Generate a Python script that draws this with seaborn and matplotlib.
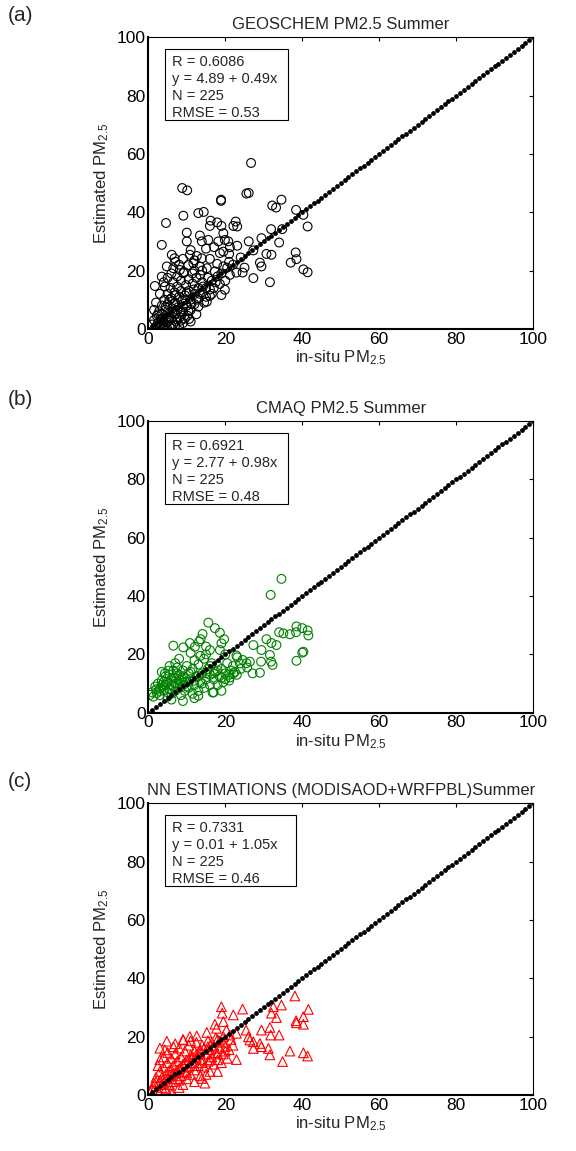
import matplotlib
matplotlib.use("Agg")
import matplotlib.pyplot as plt
import matplotlib.patches as mpatches
import seaborn as sns
import pandas as pd
import numpy as np

# in-situ vs estimated PM2.5 (x, y)
geos_pts = [
    (26.7, 56.9), (8.8, 48.3), (10.1, 47.5), (25.5, 46.4), (26.1, 46.6), (18.9, 44.3), (18.9, 43.9),
    (34.6, 44.3), (32.2, 42.3), (33.2, 41.6), (38.4, 40.8), (40.3, 39.1), (14.4, 40.1), (13.0, 39.7),
    (9.1, 38.8), (4.6, 36.3), (16.2, 37.1), (17.9, 36.5), (19.0, 35.3), (16.0, 35.3), (22.7, 36.8),
    (22.1, 35.3), (23.1, 35.1), (19.5, 32.8), (10.0, 33.0), (10.0, 30.0), (13.4, 32.0), (13.9, 30.0),
    (15.6, 30.5), (18.2, 30.0), (20.8, 30.0), (21.2, 28.0), (23.1, 28.5), (26.1, 30.0), (29.4, 31.1),
    (31.9, 34.2), (34.8, 34.2), (34.0, 29.6), (41.4, 35.1), (3.5, 28.8), (6.1, 25.4), (6.8, 24.2),
    (10.8, 25.4), (12.6, 25.0), (13.9, 24.2), (17.1, 28.0), (19.5, 26.5), (21.0, 25.7), (18.6, 26.0),
    (30.7, 25.7), (32.0, 25.4), (38.3, 26.2), (38.5, 23.9), (37.0, 22.7), (29.0, 22.7), (29.4, 21.4),
    (40.3, 20.4), (41.4, 19.4), (24.5, 19.3), (27.3, 17.4), (31.6, 16.0), (21.2, 18.5), (22.9, 19.3),
    (17.9, 22.3), (19.5, 21.4), (17.3, 19.7), (15.2, 20.8), (13.4, 21.4), (11.7, 22.5), (10.4, 21.9),
    (4.8, 21.4), (6.5, 20.8), (8.2, 20.2), (9.1, 19.1), (1.7, 14.7), (3.5, 17.9), (4.3, 14.5),
    (18.6, 15.4), (19.9, 13.4), (19.0, 11.6), (16.0, 11.3), (15.2, 9.3), (13.0, 7.6), (10.6, 3.4),
    (27.3, 26.9), (19.9, 30.5),
    (1.0, 1.5), (1.5, 3.0), (2.0, 0.8), (2.2, 4.5), (2.5, 2.0), (2.8, 6.0), (3.0, 1.0), (3.2, 3.5),
    (3.5, 8.0), (3.6, 5.0), (3.8, 0.5), (4.0, 2.5), (4.2, 10.0), (4.4, 6.5), (4.5, 1.5), (4.8, 4.0),
    (5.0, 12.0), (5.0, 8.5), (5.2, 2.8), (5.5, 0.8), (5.5, 5.5), (5.8, 14.0), (6.0, 10.5), (6.0, 3.5),
    (6.2, 7.0), (6.5, 1.5), (6.5, 16.0), (6.8, 12.5), (7.0, 5.0), (7.0, 9.0), (7.2, 2.5), (7.5, 18.0),
    (7.5, 14.5), (7.8, 7.5), (8.0, 11.0), (8.0, 0.8), (8.2, 4.0), (8.5, 16.5), (8.5, 13.0), (8.8, 9.5),
    (9.0, 6.0), (9.0, 2.0), (9.3, 19.5), (9.5, 11.5), (9.8, 15.0), (10.0, 8.0), (10.2, 4.5), (10.5, 17.0),
    (10.5, 13.0), (11.0, 10.0), (11.0, 6.5), (11.5, 19.0), (11.5, 15.5), (12.0, 12.0), (12.0, 8.5),
    (12.5, 17.5), (13.0, 14.0), (13.0, 10.5), (13.5, 18.5), (14.0, 12.5), (14.0, 16.0), (14.5, 9.0),
    (15.0, 14.0), (15.5, 17.5), (16.0, 13.5), (16.5, 16.5), (17.0, 14.0), (12.5, 5.0), (11.0, 2.5),
    (3.0, 12.0), (2.0, 9.0), (1.5, 6.5), (6.0, 19.0), (5.0, 17.5), (4.0, 16.0), (8.0, 22.0), (7.0, 23.0),
    (9.0, 24.0), (11.0, 27.0), (12.0, 23.5), (16.0, 24.0), (15.0, 27.5), (20.0, 16.5), (22.0, 22.0),
    (24.0, 24.5), (25.0, 21.0), (3.5, 3.0), (4.5, 7.5), (5.5, 3.8), (6.5, 8.5), (7.5, 3.2), (8.5, 5.5),
    (6.0, 1.0), (7.0, 11.5), (9.5, 3.5), (10.0, 12.5),
    (2.5, 5.0), (3.2, 1.8), (4.0, 0.8), (4.8, 2.2), (5.5, 10.0), (6.3, 5.8), (7.0, 1.2), (7.6, 6.5),
    (8.4, 2.8), (9.0, 7.5), (9.6, 10.0), (10.4, 6.0), (11.2, 8.5), (11.8, 13.5), (12.6, 10.0),
    (13.4, 12.0), (14.2, 14.5), (15.0, 11.0), (16.5, 12.0), (17.5, 16.0), (18.0, 18.0), (19.0, 19.0),
    (20.5, 21.0), (21.0, 23.0), (14.0, 20.0), (12.0, 20.0),
]

cmaq_pts = [
    (34.6, 45.9), (31.8, 40.4), (15.6, 30.9), (17.3, 29.0), (14.1, 27.0), (13.6, 25.2), (13.2, 24.4),
    (18.6, 27.4), (19.7, 25.2), (19.0, 23.8), (10.8, 23.9), (9.1, 22.4), (6.5, 23.0), (12.1, 22.6),
    (15.0, 22.7), (16.0, 21.5), (18.6, 21.5), (30.7, 25.2), (32.0, 23.9), (33.3, 23.2), (34.0, 27.6),
    (35.1, 27.2), (36.8, 26.9), (38.4, 27.6), (38.5, 29.6), (40.0, 29.0), (41.4, 28.2), (41.6, 26.5),
    (40.3, 20.9), (40.0, 20.6), (38.5, 17.8), (27.3, 23.2), (29.4, 21.5), (22.9, 19.6), (23.1, 19.0),
    (24.5, 18.1), (26.4, 17.5), (25.7, 15.5), (27.1, 13.5), (29.0, 13.7), (29.3, 17.5), (31.6, 19.8),
    (31.9, 17.5), (32.3, 16.4), (21.2, 12.1), (22.1, 13.5), (23.8, 16.9), (13.0, 5.8), (16.7, 6.9),
    (0.4, 6.1), (1.3, 5.5), (2.2, 6.7), (3.0, 8.4), (3.9, 8.9), (3.5, 14.0), (4.3, 13.5), (5.2, 14.4),
    (2.0, 8.0), (2.5, 10.0), (3.0, 6.0), (3.5, 11.0), (4.0, 7.5), (4.5, 9.5), (4.5, 12.5), (5.0, 5.5),
    (5.0, 10.5), (5.5, 8.0), (5.5, 13.0), (6.0, 11.0), (6.0, 6.5), (6.5, 9.0), (6.5, 14.5), (7.0, 7.5),
    (7.0, 12.0), (7.5, 10.0), (7.5, 15.5), (8.0, 8.5), (8.0, 13.0), (8.5, 11.0), (8.5, 6.0), (9.0, 9.5),
    (9.0, 14.5), (9.5, 12.0), (9.5, 7.5), (10.0, 10.5), (10.0, 16.0), (10.5, 8.5), (10.5, 13.5),
    (11.0, 11.5), (11.5, 6.5), (11.5, 15.0), (12.0, 9.5), (12.0, 18.0), (12.5, 12.5), (13.0, 7.5),
    (13.0, 16.5), (13.5, 10.5), (14.0, 13.5), (14.5, 8.5), (14.5, 18.5), (15.0, 11.5), (15.5, 15.0),
    (16.0, 9.5), (16.0, 13.0), (16.5, 17.0), (17.0, 11.5), (17.5, 14.0), (18.0, 9.5), (18.0, 16.0),
    (18.5, 12.5), (19.0, 15.0), (19.5, 10.5), (20.0, 13.5), (20.5, 17.0), (21.0, 11.0), (21.5, 14.5),
    (22.0, 16.0), (15.0, 20.0), (13.5, 19.5), (11.0, 20.5), (8.0, 18.5), (7.0, 17.0), (5.5, 16.0),
    (6.0, 4.5), (9.0, 4.0), (12.0, 5.0), (17.0, 7.0), (19.0, 7.5), (23.0, 13.0), (24.0, 15.0),
    (25.5, 17.0), (20.0, 20.0), (1.0, 7.0), (1.8, 9.0), (2.8, 7.5), (3.5, 9.5),
    (4.0, 10.5), (5.0, 7.0), (6.0, 9.5), (7.0, 10.0), (8.0, 11.5), (9.0, 12.5), (10.0, 9.0),
    (11.0, 14.0), (12.0, 11.0), (13.0, 12.5), (14.0, 10.0), (15.0, 13.5), (16.0, 16.0), (17.0, 13.5),
    (18.0, 14.5), (19.0, 12.0), (20.0, 11.5), (21.0, 13.0), (22.5, 14.0), (7.5, 13.5), (6.5, 12.0),
    (9.5, 10.5),
]

nn_pts = [
    (38.1, 33.9), (41.6, 29.3), (40.3, 26.8), (38.4, 25.4), (38.5, 24.7), (40.3, 24.2), (34.6, 30.8),
    (32.5, 30.2), (32.0, 28.0), (33.3, 26.5), (24.5, 29.4), (22.1, 27.4), (19.0, 30.2), (19.2, 28.0),
    (19.5, 25.1), (17.3, 24.2), (17.7, 22.8), (20.3, 22.2), (15.2, 21.4), (12.6, 20.2), (10.8, 20.0),
    (9.1, 18.8), (4.8, 18.4), (3.0, 16.0), (4.3, 15.4), (29.4, 22.2), (31.6, 23.1), (31.8, 20.5),
    (34.0, 20.5), (26.0, 19.9), (26.4, 18.8), (27.3, 18.2), (29.0, 17.6), (29.4, 16.5), (31.2, 15.9),
    (27.3, 15.9), (31.6, 13.7), (36.8, 15.0), (34.9, 11.4), (40.3, 14.4), (41.4, 13.3), (22.9, 12.1),
    (14.7, 4.0), (13.9, 5.6), (6.1, 0.3), (0.4, 1.1), (25.4, 22.2), (22.9, 21.1), (21.2, 20.5),
    (1.0, 2.0), (1.5, 4.0), (2.0, 3.0), (2.0, 6.0), (2.5, 1.5), (3.0, 4.5), (3.0, 8.0), (3.5, 2.5),
    (3.5, 6.0), (4.0, 4.0), (4.0, 9.5), (4.5, 7.0), (4.5, 2.0), (5.0, 5.5), (5.0, 11.0), (5.5, 3.5),
    (5.5, 8.5), (6.0, 6.5), (6.0, 12.5), (6.5, 4.5), (6.5, 10.0), (7.0, 7.5), (7.0, 14.0), (7.5, 5.5),
    (7.5, 11.5), (8.0, 9.0), (8.0, 16.0), (8.5, 6.5), (8.5, 13.0), (9.0, 10.5), (9.0, 3.5), (9.5, 8.0),
    (9.5, 15.0), (10.0, 12.0), (10.0, 5.5), (10.5, 9.5), (10.5, 17.0), (11.0, 13.5), (11.0, 7.0),
    (11.5, 11.0), (12.0, 15.0), (12.0, 8.5), (12.5, 12.5), (12.5, 18.0), (13.0, 10.0), (13.5, 14.5),
    (13.5, 6.5), (14.0, 12.0), (14.0, 17.0), (14.5, 9.5), (15.0, 14.0), (15.5, 11.5), (15.5, 18.5),
    (16.0, 8.0), (16.0, 15.5), (16.5, 13.0), (17.0, 17.0), (17.0, 10.5), (17.5, 14.5), (18.0, 12.0),
    (18.0, 19.0), (18.5, 16.0), (19.0, 11.0), (19.5, 14.0), (19.5, 18.0), (20.0, 16.5), (20.5, 12.5),
    (21.0, 15.5), (21.5, 19.0), (22.0, 17.0), (6.0, 1.5), (8.0, 2.5), (12.0, 4.5), (15.0, 7.0),
    (18.0, 8.0), (3.0, 12.0), (5.0, 14.5), (7.0, 17.5), (9.0, 19.0), (11.0, 18.5), (6.5, 16.5),
    (4.0, 13.0), (2.5, 10.0),
    (2.0, 4.5), (3.5, 3.5), (4.5, 5.5), (5.5, 6.5), (6.5, 7.5), (7.5, 8.5), (8.5, 9.5), (9.5, 11.0),
    (10.5, 12.0), (11.5, 13.0), (12.5, 14.0), (13.5, 15.5), (14.5, 16.0), (15.5, 16.5), (16.5, 18.0),
    (17.5, 19.5), (18.5, 18.5), (19.5, 20.0), (8.0, 5.0), (10.0, 7.5), (12.0, 10.0), (14.0, 11.0),
    (16.0, 12.0), (18.0, 14.0), (20.0, 15.0),
]

titles = ["GEOSCHEM PM2.5 Summer", "CMAQ PM2.5 Summer", "NN ESTIMATIONS (MODISAOD+WRFPBL)Summer"]
panel_tags = ["(a)", "(b)", "(c)"]
stats = [
    ["R = 0.6086", "y = 4.89 + 0.49x", "N = 225", "RMSE = 0.53"],
    ["R = 0.6921", "y = 2.77 + 0.98x", "N = 225", "RMSE = 0.48"],
    ["R = 0.7331", "y = 0.01 + 1.05x", "N = 225", "RMSE = 0.46"],
]
colors = ["black", "#008000", "#ff0000"]
markers = ["o", "o", "^"]
ticks = [0, 20, 40, 60, 80, 100]
diag = np.arange(0, 101, 1)  # 1:1 reference line

sns.set_style("white")
plt.rcParams["font.family"] = ["Liberation Sans", "DejaVu Sans"]
plt.rcParams["mathtext.default"] = "regular"

fig = plt.figure(figsize=(5.76, 11.51), dpi=100)
bottoms = [0.7143, 0.3808, 0.0488]

for i, pts in enumerate([geos_pts, cmaq_pts, nn_pts]):
    ax = fig.add_axes([0.2575, bottoms[i], 0.668, 0.2533])
    df = pd.DataFrame(pts, columns=["obs", "est"])
    sns.scatterplot(data=df, x="obs", y="est", ax=ax, marker=markers[i], s=40 if i < 2 else 48,
                    facecolors="none", edgecolor=colors[i], linewidth=0.8)
    sns.scatterplot(x=diag, y=diag, ax=ax, color="black", s=12, linewidth=0, zorder=4)

    ax.set_xlim(0, 100)
    ax.set_ylim(0, 100)
    ax.set_xticks(ticks)
    ax.set_yticks(ticks)
    ax.tick_params(direction="in", top=True, right=True, length=3, width=0.8,
                   labelsize=12.5, colors="black", pad=2)
    for side in ax.spines:
        ax.spines[side].set_visible(True)
        ax.spines[side].set_color("black")
        ax.spines[side].set_linewidth(0.8)
    ax.spines["left"].set_linewidth(1.5)
    ax.spines["bottom"].set_linewidth(1.5)

    ax.set_xlabel("in-situ PM$_{2.5}$", fontsize=12, labelpad=1)
    ax.set_ylabel("Estimated PM$_{2.5}$", fontsize=12, labelpad=4)
    ax.set_title(titles[i], fontsize=12, pad=6)

    box_w = 0.32 if i < 2 else 0.34
    ax.add_patch(mpatches.Rectangle((0.043, 0.717), box_w, 0.243, transform=ax.transAxes,
                                    facecolor="white", edgecolor="black", linewidth=0.8, zorder=5))
    for j, line in enumerate(stats[i]):
        ax.text(0.062, 0.916 - j * 0.059, line, transform=ax.transAxes, fontsize=10.5,
                va="center", ha="left", zorder=6)

    fig.text(0.014, bottoms[i] + 0.2533 + 0.0185, panel_tags[i], fontsize=15, va="center", ha="left")

fig.savefig("out.png", dpi=100)
